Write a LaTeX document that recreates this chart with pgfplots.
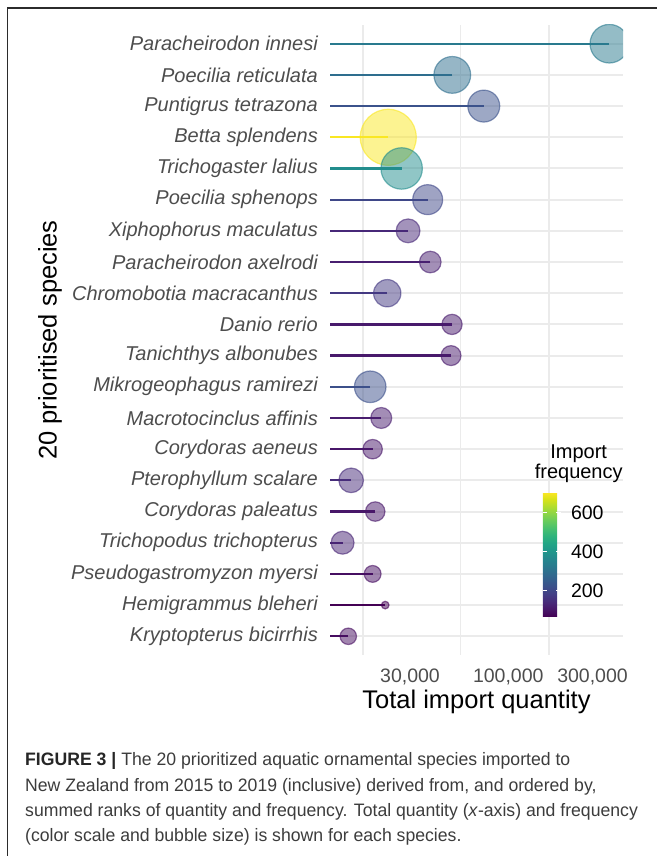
\documentclass[border=0pt]{standalone}
\usepackage{pgfplots}
\pgfplotsset{compat=1.18}
\usepackage{pgfplotstable}
\usepackage{fontspec}
\setmainfont{Liberation Sans}
\newfontfamily\capfont[FakeStretch=0.98]{Liberation Sans}
\usetikzlibrary{calc}

\definecolor{gridgray}{HTML}{EBEBEB}
\definecolor{ticktext}{HTML}{4D4D4D}
\definecolor{framegray}{HTML}{2B2B2B}
\definecolor{captext}{HTML}{3C3C3C}
\newcommand\fs[2]{\fontsize{#1}{#2}\selectfont}

% row = rank order (1 = top), q = total import quantity, f = import frequency
\pgfplotstableread{
row q f
1 633000 325
2 90600 295
3 133800 225
4 41000 700
5 48400 375
6 66800 200
7 52400 136
8 69000 118
9 40500 170
10 90300 108
11 89200 106
12 32800 220
13 37600 113
14 33800 103
15 25900 143
16 34900 103
17 23300 128
18 33800 88
19 39500 65
20 25000 86
}\species

\begin{document}
\begin{tikzpicture}
\useasboundingbox (0pt,0pt) rectangle (657pt,856pt);
\draw[framegray, line width=1.5pt] (7.5pt,0pt) -- (7.5pt,848pt) -- (657pt,848pt);
\begin{axis}[
  at={(330pt,201pt)}, anchor=south west,
  scale only axis, width=293pt, height=630pt,
  xmode=log, xmin=19940, xmax=750000,
  ymin=0.4, ymax=20.6, y dir=reverse,
  clip marker paths=true,
  xtick={30000,100000,300000},
  xticklabels={30{,}000, \hspace{2pt}100{,}000, \hspace{-7pt}300{,}000},
  ytick={1,...,20},
  yticklabels={Paracheirodon innesi, Poecilia reticulata, Puntigrus tetrazona,
    Betta splendens, Trichogaster lalius, Poecilia sphenops, Xiphophorus maculatus,
    Paracheirodon axelrodi, Chromobotia macracanthus, Danio rerio,
    Tanichthys albonubes, Mikrogeophagus ramirezi, Macrotocinclus affinis,
    Corydoras aeneus, Pterophyllum scalare, Corydoras paleatus,
    Trichopodus trichopterus, Pseudogastromyzon myersi, Hemigrammus bleheri,
    Kryptopterus bicirrhis},
  xmajorgrids, ymajorgrids,
  every axis x grid/.append style={gridgray, line width=1.3pt},
  every axis y grid/.append style={gridgray, line width=2pt},
  axis line style={draw=none},
  major tick length=0pt,
  tick style={draw=none},
  xticklabel style={font=\fs{19.5pt}{23pt}, text=ticktext, anchor=base, yshift=-27pt, xshift=47pt},
  yticklabel style={font=\fs{20pt}{24pt}\itshape, text=ticktext, anchor=east, inner sep=0pt, xshift=-12pt},
  xlabel={Total import quantity}, ylabel={20 prioritised species},
  xlabel style={font=\fs{25.5pt}{30pt}, at={(axis description cs:0.5,-0.0741)}, anchor=center},
  ylabel style={font=\fs{25.5pt}{30pt}, at={(axis description cs:-0.9556,0.5)}, anchor=center},
  colormap name=viridis,
  point meta min=65, point meta max=704,
  colorbar,
  colorbar style={
    at={($(parent axis.south west)+(204.3pt,38.3pt)$)}, anchor=south west,
    scale only axis, width=18pt, height=124.7pt,
    ytick={200,400,600},
    yticklabel pos=right,
    ytick pos=both,
    tick align=inside, major tick length=4.5pt,
    ytick style={draw=white, line width=1pt},
    axis line style={draw=none},
    axis on top,
    yticklabel style={font=\fs{19.5pt}{23pt}, text=black, anchor=west, inner sep=0pt, xshift=10pt},
    /pgf/number format/assume math mode=true,
  },
]
% each species: a bubble whose colour and area follow the import frequency,
% and a stem from the left edge to its total quantity drawn over it
\addplot[
  scatter, only marks, mark=*,
  point meta=explicit,
  visualization depends on={3.8+24.2*sqrt((\thisrow{f}-65)/635) \as \rad},
  scatter/use mapped color={draw=mapped color, fill=mapped color,
    fill opacity=0.5, draw opacity=0.6, line width=1.2pt},
  scatter/@pre marker code/.append code={\tikzset{mark size=\rad}},
  scatter/@post marker code/.code={%
    \draw[mapped color, line width=2.3pt, draw opacity=1] (0pt,0pt) -- (-400pt,0pt);%
    \endscope
  },
] table[x=q, y=row, meta=f] {\species};
\end{axis}
% colour bar title
\node[font=\fs{20pt}{24pt}, anchor=base] at (578.7pt,397pt) {Import};
\node[font=\fs{20pt}{24pt}, anchor=base] at (578.7pt,377pt) {frequency};
% caption
\begin{scope}[every node/.style={anchor=base west, inner sep=0pt,
      font=\capfont\fs{18pt}{22pt}, text=captext}]
\node at (25pt,90pt) {\textbf{\color{black!85}FIGURE 3 |} The 20 prioritized aquatic ornamental species imported to};
\node at (25pt,64pt) {New Zealand from 2015 to 2019 (inclusive) derived from, and ordered by,};
\node at (25pt,39pt) {summed ranks of quantity and frequency. Total quantity (\textit{x}-axis) and frequency};
\node at (25pt,14pt) {(color scale and bubble size) is shown for each species.};
\end{scope}
\end{tikzpicture}
\end{document}
